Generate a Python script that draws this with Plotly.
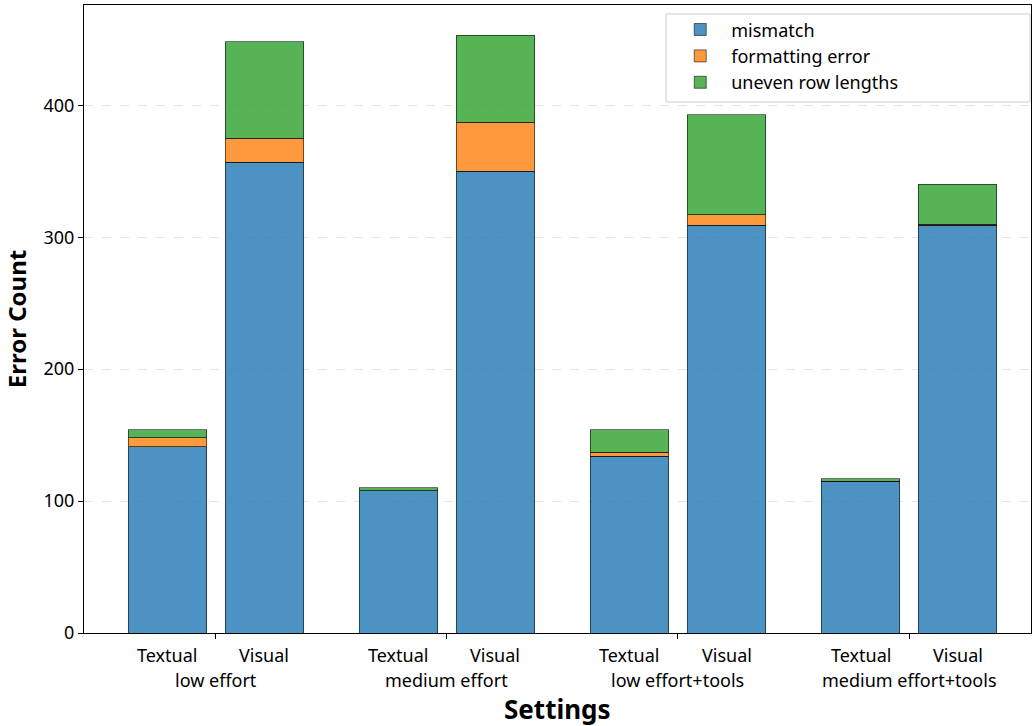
import plotly.graph_objects as go

groups = ["low effort", "medium effort", "low effort+tools", "medium effort+tools"]
modalities = ["Textual", "Visual"]

# values per (group, modality) in order: low-T, low-V, med-T, med-V, lowT-T, lowT-V, medT-T, medT-V
mismatch = [141, 357, 108, 350, 134, 309, 115, 309]
formatting_error = [7, 18, 0, 37, 3, 8, 0, 1]
uneven_row_lengths = [6, 73, 2, 66, 17, 76, 2, 30]

series_names = ["mismatch", "formatting error", "uneven row lengths"]
series_values = [mismatch, formatting_error, uneven_row_lengths]
colors = ["rgba(31,119,180,0.8)", "rgba(255,127,14,0.8)", "rgba(44,160,44,0.8)"]

offsets = [-0.21, 0.21]
bar_width = 0.34

xpos = []
for gi, g in enumerate(groups):
    for mi, m in enumerate(modalities):
        xpos.append(gi + offsets[mi])

fig = go.Figure()
for name, vals, c in zip(series_names, series_values, colors):
    fig.add_trace(go.Bar(
        x=xpos, y=vals, name=name, width=bar_width,
        marker=dict(color=c, line=dict(color="rgba(0,0,0,0.55)", width=1)),
    ))

font_family = "Noto Sans, Open Sans, DejaVu Sans, sans-serif"

annotations = []
for gi, g in enumerate(groups):
    for mi, m in enumerate(modalities):
        annotations.append(dict(x=gi + offsets[mi], y=0, xref="x", yref="paper",
                                text=m, showarrow=False, yanchor="top", yshift=-8,
                                font=dict(size=18, color="black", family=font_family)))
    annotations.append(dict(x=gi, y=0, xref="x", yref="paper", text=g, showarrow=False,
                            yanchor="top", yshift=-33,
                            font=dict(size=18, color="black", family=font_family)))
annotations.append(dict(x=0.5, y=0, xref="paper", yref="paper", text="<b>Settings</b>",
                        showarrow=False, yanchor="top", yshift=-56,
                        font=dict(size=26, color="black", family=font_family)))

fig.update_layout(
    width=1033, height=726,
    margin=dict(l=84, r=2, t=5, b=93),
    barmode="stack",
    plot_bgcolor="white", paper_bgcolor="white",
    font=dict(family=font_family, size=18, color="black"),
    annotations=annotations,
    shapes=[dict(type="rect", xref="paper", yref="paper", x0=0.6146, x1=0.999,
                 y0=0.8455, y1=0.9857, line=dict(color="#cccccc", width=1),
                 fillcolor="white", layer="above")],
    legend=dict(x=0.618, y=0.99, xanchor="left", yanchor="top",
                borderwidth=0, bgcolor="rgba(0,0,0,0)",
                font=dict(size=18), itemwidth=52, traceorder="normal", tracegroupgap=0),
    showlegend=True,
)
fig.update_xaxes(
    range=[-0.571, 3.528], tickvals=list(range(len(groups))), ticktext=[""] * len(groups),
    ticks="outside", ticklen=5, tickcolor="black", automargin=False,
    showline=True, linecolor="black", linewidth=1, mirror=True, showgrid=False, zeroline=False,
)
fig.update_yaxes(
    range=[0, 476], tickvals=[0, 100, 200, 300, 400], ticks="outside", ticklen=5, tickcolor="black",
    showline=True, linecolor="black", linewidth=1, mirror=True, automargin=False,
    showgrid=True, gridcolor="rgba(0,0,0,0.1)", griddash="dash", zeroline=False,
    title=dict(text="<b>Error Count</b>", font=dict(size=24, family=font_family), standoff=12),
    tickfont=dict(size=18),
)

fig.write_html("out.html", config={"displayModeBar": False},
               post_script="document.body.style.margin='0';document.body.style.overflow='hidden';")
